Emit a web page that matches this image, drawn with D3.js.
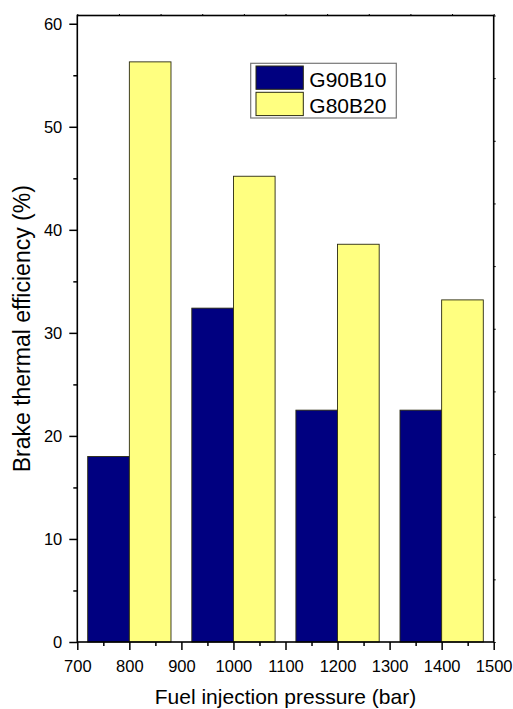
<!DOCTYPE html>
<html><head><meta charset="utf-8">
<script src="https://cdn.jsdelivr.net/npm/d3@7"></script>
<style>body{margin:0;background:#fff}svg{display:block;font-family:Arial,"Liberation Sans",sans-serif}</style>
</head><body>
<svg id="c" width="513" height="709"></svg>
<script>
const categories = [800, 1000, 1200, 1400];
const seriesNames = ["G90B10", "G80B20"];
const g90b10 = [18.0, 32.4, 22.5, 22.5];
const g80b20 = [56.3, 45.2, 38.6, 33.2];
const xTicks = [700, 800, 900, 1000, 1100, 1200, 1300, 1400, 1500];
const yTicks = [0, 10, 20, 30, 40, 50, 60];
const colors = ["#000080", "#FFFF80"];
const barWidth = 80;

const svg = d3.select("#c");
const FONT = "Arial, 'Liberation Sans', sans-serif";
const L = 77.3, R = 493.7, T = 15.5, B = 642;
const x = d3.scaleLinear().domain([700, 1500]).range([L, R]);
const y = d3.scaleLinear().domain([0, 60.8]).range([B, T]);

// bars
const series = [g90b10, g80b20];
series.forEach((vals, si) => {
  svg.append("g").selectAll("rect").data(categories.map((c, i) => ({c, v: vals[i]})))
    .join("rect")
    .attr("x", d => si === 0 ? x(d.c - barWidth) : x(d.c))
    .attr("width", d => x(d.c + barWidth) - x(d.c))
    .attr("y", d => y(d.v))
    .attr("height", d => y(0) - y(d.v))
    .attr("fill", colors[si])
    .attr("stroke", "#2a2a10")
    .attr("stroke-width", 0.9);
});

// left axis
const yAxis = svg.append("g").attr("transform", `translate(${L},0)`)
  .call(d3.axisLeft(y).tickValues(yTicks).tickSize(8).tickPadding(7).tickFormat(d3.format("d")));
yAxis.selectAll("text").attr("font-size", 16.5).attr("fill", "#000").attr("font-family", FONT);
yAxis.select(".domain").remove();
yAxis.selectAll(".tick line").attr("stroke-width", 1.5);
svg.append("g").attr("transform", `translate(${L},0)`)
  .call(d3.axisLeft(y).tickValues(d3.range(5, 60, 10)).tickSize(4).tickFormat(""))
  .call(g => g.select(".domain").remove())
  .selectAll("line").attr("stroke-width", 1.5);

// bottom axis
const xAxis = svg.append("g").attr("transform", `translate(0,${B})`)
  .call(d3.axisBottom(x).tickValues(xTicks).tickSize(8).tickPadding(10).tickFormat(d3.format("d")));
xAxis.selectAll("text").attr("font-size", 16.5).attr("fill", "#000").attr("font-family", FONT);
xAxis.select(".domain").remove();
xAxis.selectAll(".tick line").attr("stroke-width", 1.5);
svg.append("g").attr("transform", `translate(0,${B})`)
  .call(d3.axisBottom(x).tickValues(d3.range(750, 1500, 100)).tickSize(4).tickFormat(""))
  .call(g => g.select(".domain").remove())
  .selectAll("line").attr("stroke-width", 1.5);

// top and right minor ticks
const xTop = d3.scaleLinear().domain([0, 10]).range([L, R]);
svg.append("g").attr("transform", `translate(0,${T})`)
  .call(d3.axisTop(xTop).ticks(10).tickSize(1.5).tickFormat(""))
  .call(g => g.select(".domain").remove());
const yRight = d3.scaleLinear().domain([0, 10]).range([B, T]);
svg.append("g").attr("transform", `translate(${R},0)`)
  .call(d3.axisRight(yRight).ticks(10).tickSize(2).tickFormat(""))
  .call(g => g.select(".domain").remove());

// frame
svg.append("rect").attr("x", L).attr("y", T).attr("width", R - L).attr("height", B - T)
  .attr("fill", "none").attr("stroke", "#000").attr("stroke-width", 1.6);

// legend
const lg = svg.append("g");
lg.append("rect").attr("x", 250.7).attr("y", 63.3).attr("width", 145.6).attr("height", 54.7)
  .attr("fill", "#fff").attr("stroke", "#777").attr("stroke-width", 1.2);
seriesNames.forEach((n, i) => {
  lg.append("rect").attr("x", 256).attr("y", 66 + i * 26.3).attr("width", 47.3).attr("height", 23.3)
    .attr("fill", colors[i]).attr("stroke", "#2a2a10").attr("stroke-width", 1);
  lg.append("text").attr("x", 309.3).attr("y", 86.7 + i * 26.3).attr("font-size", 21)
    .attr("fill", "#000").attr("font-family", FONT).text(n);
});

// axis titles
svg.append("text").attr("x", (L + R) / 2).attr("y", 704).attr("text-anchor", "middle")
  .attr("font-size", 21).attr("fill", "#000").attr("font-family", FONT).text("Fuel injection pressure (bar)");
svg.append("text").attr("transform", `translate(29.5,${(T + B) / 2}) rotate(-90)`).attr("text-anchor", "middle")
  .attr("font-size", 23).attr("fill", "#000").attr("font-family", FONT).text("Brake thermal efficiency (%)");
</script>
</body></html>
